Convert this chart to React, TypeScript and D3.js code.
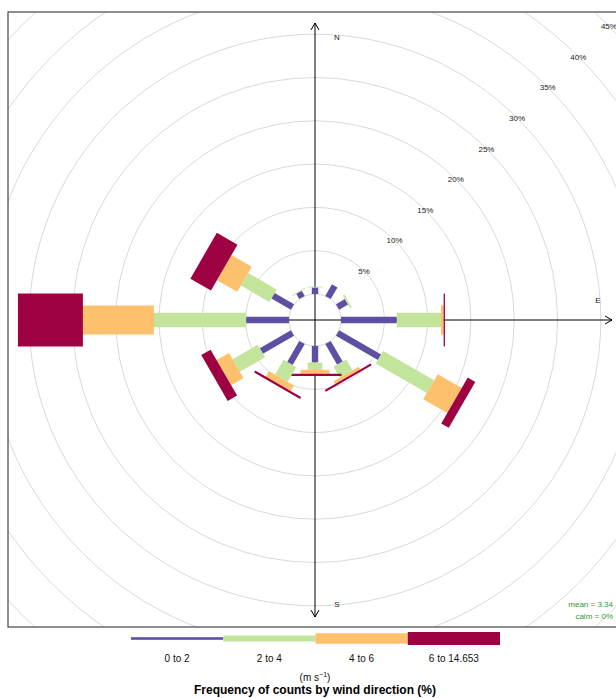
import React from "react";
import * as d3 from "d3";

// wind directions (degrees, clockwise from north)
const directions = [0, 30, 60, 90, 120, 150, 180, 210, 240, 270, 300, 330];

// frequency (%) of each speed interval per direction
const speed0to2 = [0.75, 1.55, 1.2, 6.45, 5.6, 2.75, 1.9, 2.8, 4.15, 4.95, 2.6, 0.7];
const speed2to4 = [0.1, 0, 0.2, 5.1, 6.8, 1.45, 0.85, 1.95, 3.35, 10.65, 3.8, 0.1];
const speed4to6 = [0, 0, 0, 0.3, 3.2, 0.35, 0.45, 0.75, 1.65, 8.2, 2.7, 0];
const speed6plus = [0, 0, 0, 0.15, 1.0, 0.25, 0.25, 0.25, 1.25, 7.5, 2.75, 0];

const intervalLabels = ["0 to 2", "2 to 4", "4 to 6", "6 to 14.653"];
const gridLevels = [5, 10, 15, 20, 25, 30, 35, 40, 45];
const compass = ["N", "E", "S", "W"];

const colours = ["#5E4FA2", "#C2E49B", "#FDC06D", "#9E0142"];
const halfWidths = [3.2, 7.3, 14.5, 26.5];

const cx = 315;
const cy = 320;
const font = "Liberation Sans, Arial, Helvetica, sans-serif";

const App = () => {
  const series = [speed0to2, speed2to4, speed4to6, speed6plus];
  const r = d3.scaleLinear().domain([0, 45]).range([26, 415.7]);

  const pt = (deg: number, rad: number, off: number) => {
    const t = (deg * Math.PI) / 180;
    return [cx + rad * Math.sin(t) + off * Math.cos(t), cy - rad * Math.cos(t) + off * Math.sin(t)];
  };

  // build paddles
  const paddles: { d: string; fill: string; key: string }[] = [];
  directions.forEach((wd, i) => {
    const cum = Array.from(d3.cumsum(series.map((s) => s[i])));
    cum.forEach((c, j) => {
      const start = j === 0 ? 0 : cum[j - 1];
      if (c - start <= 0) return;
      const w = halfWidths[j];
      const p = [
        pt(wd, r(start), -w),
        pt(wd, r(start), w),
        pt(wd, r(c), w),
        pt(wd, r(c), -w),
      ];
      paddles.push({
        d: "M" + p.map((q) => q.join(",")).join("L") + "Z",
        fill: colours[j],
        key: `${wd}-${j}`,
      });
    });
  });

  const axLen = 297;
  const arrow = (x: number, y: number, dx: number, dy: number) => {
    // open arrow head pointing along (dx, dy)
    const a = Math.atan2(dy, dx);
    const L = 8;
    const s = Math.PI / 6;
    const p1 = [x - L * Math.cos(a - s), y - L * Math.sin(a - s)];
    const p2 = [x - L * Math.cos(a + s), y - L * Math.sin(a + s)];
    return `M${p1.join(",")}L${x},${y}L${p2.join(",")}`;
  };

  const legendX = d3.scaleBand<string>().domain(intervalLabels).range([131, 500]);
  const legendH = [2.6, 6, 10.5, 13];

  const compassPos: Record<string, [number, number]> = {
    N: [cx + 22, cy - 283],
    E: [cx + 283, cy - 20],
    S: [cx + 22, cy + 284],
    W: [cx - 283, cy - 20],
  };

  return (
    <svg
      width={616}
      height={698}
      style={{ position: "absolute", left: 0, top: 0, background: "#fff" }}
      fontFamily={font}
    >
      <defs>
        <clipPath id="panel">
          <rect x={8} y={12} width={615} height={615} />
        </clipPath>
      </defs>
      <g clipPath="url(#panel)">
        <circle cx={cx} cy={cy} r={r(0)} fill="none" stroke="#d9d9d9" strokeWidth={1} />
        {gridLevels.map((g) => (
          <circle key={g} cx={cx} cy={cy} r={r(g)} fill="none" stroke="#d9d9d9" strokeWidth={1} />
        ))}
        {gridLevels.map((g) => {
          const [x, y] = pt(45, r(g), 0);
          return (
            <text key={"l" + g} x={x} y={y + 3} fontSize={8} textAnchor="middle" fill="#222">
              {g}%
            </text>
          );
        })}
        {compass.map((c) => (
          <text
            key={c}
            x={compassPos[c][0]}
            y={compassPos[c][1] + 3}
            fontSize={8}
            textAnchor="middle"
            fill="#222"
          >
            {c}
          </text>
        ))}
        {/* axes */}
        <g stroke="#000" strokeWidth={1} fill="none">
          <line x1={cx} y1={cy - axLen} x2={cx} y2={cy + axLen} />
          <line x1={cx - axLen} y1={cy} x2={cx + axLen} y2={cy} />
          <path d={arrow(cx, cy - axLen, 0, -1)} />
          <path d={arrow(cx, cy + axLen, 0, 1)} />
          <path d={arrow(cx + axLen, cy, 1, 0)} />
          <path d={arrow(cx - axLen, cy, -1, 0)} />
        </g>
        {paddles.map((p) => (
          <path key={p.key} d={p.d} fill={p.fill} />
        ))}
        <text x={613} y={607} fontSize={8} textAnchor="end" fill="#2E9B2E">
          mean = 3.34
        </text>
        <text x={613} y={619} fontSize={8} textAnchor="end" fill="#2E9B2E">
          calm = 0%
        </text>
      </g>
      <rect x={8} y={12} width={615} height={615} fill="none" stroke="#444" strokeWidth={1.2} />

      {/* legend */}
      {intervalLabels.map((lab, j) => (
        <g key={lab}>
          <rect
            x={legendX(lab)}
            y={638.5 - legendH[j] / 2}
            width={legendX.bandwidth()}
            height={legendH[j]}
            fill={colours[j]}
          />
          <text
            x={(legendX(lab) as number) + legendX.bandwidth() / 2}
            y={662}
            fontSize={10}
            textAnchor="middle"
            fill="#111"
          >
            {lab}
          </text>
        </g>
      ))}
      <text x={315} y={681} fontSize={10} textAnchor="middle" fill="#111">
        (m s
        <tspan dy={-4} fontSize={7}>
          −1
        </tspan>
        <tspan dy={4}>)</tspan>
      </text>
      <text x={315} y={694} fontSize={12} fontWeight="bold" textAnchor="middle" fill="#000">
        Frequency of counts by wind direction (%)
      </text>
    </svg>
  );
};

export default App;
